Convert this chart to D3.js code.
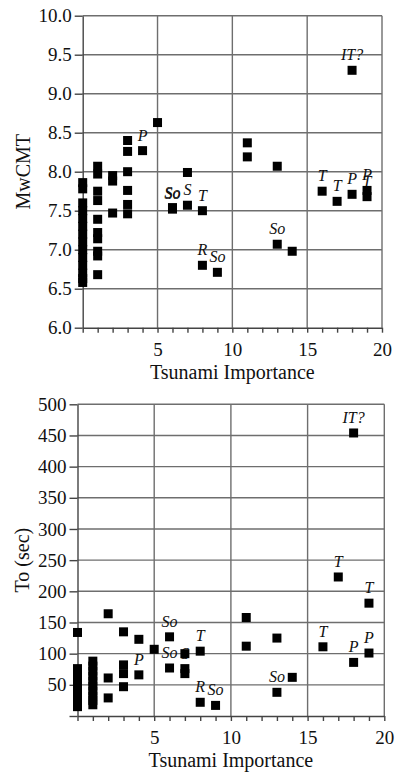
<!DOCTYPE html>
<html>
<head>
<meta charset="utf-8">
<script src="https://d3js.org/d3.v7.min.js"></script>
<style>
  body { margin: 0; background: #fff; }
  svg text { font-family: "Liberation Serif", "Times New Roman", Times, serif; fill: #111; }
</style>
</head>
<body>
<svg id="chart" width="395" height="773"></svg>
<script>
// upper panel: magnitude against tsunami importance
var imp1 = [0,0,0,0,0,0,0,0,0,0,0,0,0,0,
            1,1,1,1,1,1,1,1,1,1,
            2,2,2,
            3,3,3,3,3,3,
            4,5,6,6,7,7,8,8,9,11,11,13,13,14,16,17,18,18,19,19];
var mw = [7.86,7.78,7.6,7.5,7.4,7.3,7.2,7.1,7.0,6.9,6.8,6.7,6.63,6.58,
          8.07,7.97,7.75,7.63,7.39,7.22,7.14,6.98,6.92,6.68,
          7.95,7.88,7.47,
          8.40,8.26,8.00,7.76,7.58,7.46,
          8.27,8.63,7.54,7.52,7.99,7.57,7.50,6.80,6.71,8.37,8.19,8.07,7.07,6.98,7.75,7.62,9.30,7.71,7.76,7.68];
var tag1 = ["","","","","","","","","","","","","","",
            "","","","","","","","","","",
            "","","",
            "","","","","","",
            "P","","So","So","","S","T","R","So","","","","So","","T","T","IT?","P","P","T"];

// lower panel: period against tsunami importance
var imp2 = [0,0,0,0,0,0,0,0,0,0,
            1,1,1,1,1,1,1,1,1,1,
            2,2,2,
            3,3,3,3,
            4,4,5,6,6,7,7,7,8,8,9,11,11,13,13,14,16,17,18,18,19,19];
var period = [134,76,68,60,52,44,36,28,21,15,
              88,80,72,64,56,48,40,32,25,18,
              164,61,29,
              135,82,68,47,
              123,66,107,127,77,100,76,68,104,22,17,158,112,125,38,62,111,223,454,86,181,101];
var tag2 = ["","","","","","","","","","",
            "","","","","","","","","","",
            "","","",
            "","","","",
            "","P","","So","So","","S","","T","R","So","","","","So","","T","T","IT?","P","T","P"];

var xLabels = [5, 10, 15, 20];
var mwTicks = d3.range(6, 10.01, 0.5);
var periodTicks = d3.range(0, 501, 50);

var serif = '"Liberation Serif", "Times New Roman", Times, serif';
var svg = d3.select("#chart");

function panel(cfg) {
  var g = svg.append("g");
  var x = d3.scaleLinear().domain([0, 20]).range(cfg.xr);
  var y = d3.scaleLinear().domain(cfg.yd).range(cfg.yr);

  // grid
  g.selectAll(".hg").data(cfg.yTicks.slice(1)).enter().append("line")
    .attr("x1", cfg.xr[0]).attr("x2", cfg.xr[1])
    .attr("y1", d => y(d)).attr("y2", d => y(d))
    .attr("stroke", "#6e6e6e").attr("stroke-width", 1.4);
  g.selectAll(".vg").data(xLabels).enter().append("line")
    .attr("x1", d => x(d)).attr("x2", d => x(d))
    .attr("y1", cfg.yr[0]).attr("y2", cfg.yr[1])
    .attr("stroke", "#6e6e6e").attr("stroke-width", 1.4);

  // axes
  var ya = g.append("g").attr("transform", "translate(" + cfg.xr[0] + ",0)")
    .call(d3.axisLeft(y).tickValues(cfg.yTicks).tickFormat(cfg.yFmt)
      .tickSize(8).tickPadding(3).tickSizeOuter(0));
  var xa = g.append("g").attr("transform", "translate(0," + cfg.yr[0] + ")")
    .call(d3.axisBottom(x).tickValues(d3.range(0, 21))
      .tickFormat(d => xLabels.indexOf(d) >= 0 ? d : "")
      .tickSize(5).tickPadding(10).tickSizeOuter(0));
  [ya, xa].forEach(function (a) {
    a.attr("font-family", serif).attr("font-size", 19);
    a.selectAll("path, line").attr("stroke", "#444").attr("stroke-width", 1.4);
    a.selectAll("text").attr("font-family", serif).attr("fill", "#111");
  });

  // titles
  g.append("text")
    .attr("x", (cfg.xr[0] + cfg.xr[1]) / 2).attr("y", cfg.yr[0] + 51)
    .attr("text-anchor", "middle").attr("font-family", serif).attr("font-size", 20)
    .text("Tsunami Importance");
  g.append("text")
    .attr("transform", "translate(" + cfg.titleX + "," + (cfg.yr[0] + cfg.yr[1]) / 2 + ") rotate(-90)")
    .attr("text-anchor", "middle").attr("font-family", serif).attr("font-size", 20)
    .text(cfg.yTitle);

  // event labels, then squares
  var pts = cfg.xs.map((d, i) => ({ x: d, y: cfg.ys[i], t: cfg.tags[i] }));
  g.selectAll(".lab").data(pts.filter(d => d.t)).enter().append("text")
    .attr("x", d => x(d.x)).attr("y", d => y(d.y) - 10)
    .attr("text-anchor", "middle")
    .attr("font-family", serif).attr("font-size", 16).attr("font-style", "italic")
    .text(d => d.t);
  g.selectAll(".pt").data(pts).enter().append("rect")
    .attr("x", d => x(d.x) - 4.5).attr("y", d => y(d.y) - 4.5)
    .attr("width", 9).attr("height", 9)
    .attr("fill", "#000");
}

panel({
  xr: [82.7, 382], yr: [327.7, 15.7], yd: [6, 10],
  yTicks: mwTicks, yFmt: d3.format(".1f"),
  yTitle: "MwCMT", titleX: 30,
  xs: imp1, ys: mw, tags: tag1
});

panel({
  xr: [77.5, 384.3], yr: [716, 404.3], yd: [0, 500],
  yTicks: periodTicks, yFmt: d => d === 0 ? "" : d,
  yTitle: "To (sec)", titleX: 29,
  xs: imp2, ys: period, tags: tag2
});
</script>
</body>
</html>
